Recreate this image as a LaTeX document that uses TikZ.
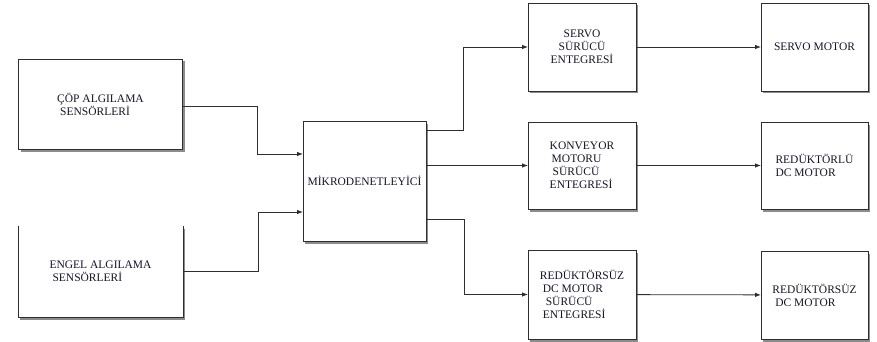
\documentclass[tikz,border=0pt]{standalone}
\usepackage{fontspec}
\setmainfont{Liberation Serif}
\usetikzlibrary{arrows.meta, positioning, calc, shadows}
\definecolor{bdLine}{HTML}{2E2E2E}
\definecolor{bdText}{HTML}{141428}
\newcommand{\ic}{\hspace*{3pt}}
\tikzset{
  blok/.style={
    draw=bdLine, line width=0.9pt, fill=white, align=left,
    font=\fontsize{11.5}{13}\selectfont, text=bdText,
    inner sep=0pt, outer sep=0pt,
    drop shadow={shadow xshift=2pt, shadow yshift=-2.5pt, fill=black, opacity=0.45}
  },
  acikblok/.style={blok, draw=none},
  akis/.style={-{Latex[length=6pt,width=4.5pt]}, line width=0.8pt, draw=bdLine},
}

\begin{document}
\begin{tikzpicture}[x=1pt, y=-1pt]
  \useasboundingbox (0,0) rectangle (877,342);

  % giris sensorleri
  \node[blok, minimum width=164pt, minimum height=90pt] (cop) at (100.5,104) {ÇÖP ALGILAMA\\\ic SENSÖRLERİ};
  \node[acikblok, minimum width=165pt, minimum height=91pt] (engel) at (100.5,271.5) {ENGEL ALGILAMA\\\ic SENSÖRLERİ};
  \draw[draw=bdLine, line width=0.9pt] (engel.north west) -- (engel.south west)
    -- (engel.south east) -- (engel.north east);

  \node[blok, minimum width=123pt, minimum height=120pt] (mikro) at (364.5,181) {MİKRODENETLEYİCİ};

  % surucu entegreleri
  \node[blok, align=center, minimum width=108pt, minimum height=88pt] (sdrv) at (582,47) {SERVO\\ SÜRÜCÜ\\ ENTEGRESİ};
  \node[blok, minimum width=108pt, minimum height=87pt] (kdrv) at (582,165.5) {KONVEYOR\\ \hspace*{2pt}MOTORU\\ \hspace*{3pt}SÜRÜCÜ\\ ENTEGRESİ};
  \node[blok, minimum width=108pt, minimum height=89pt] (rdrv) at (582,294.5) {REDÜKTÖRSÜZ\\\ic DC MOTOR\\ \hspace*{6pt}SÜRÜCÜ\\\ic ENTEGRESİ};

  % motorlar
  \node[blok, minimum width=107pt, minimum height=88pt] (smot) at (814.5,47) {SERVO MOTOR};
  \node[blok, minimum width=107pt, minimum height=87pt] (rlu) at (814.5,165.5) {REDÜKTÖRLÜ\\ DC MOTOR};
  \node[blok, minimum width=107pt, minimum height=88pt] (rsuz) at (814.5,295) {REDÜKTÖRSÜZ\\\ic DC MOTOR};

  \draw[akis] ([yshift=-2pt]cop.east) -- ++(75,0) |- ([yshift=27pt]mikro.west);
  \draw[akis] (engel.east) -- ++(75,0) |- ([yshift=-31pt]mikro.west);
  \draw[akis] ([yshift=-9pt]mikro.north east) -- ++(37,0) |- (sdrv.west);
  \draw[akis] (mikro.east |- kdrv.west) -- (kdrv.west);
  \draw[akis] ([yshift=22pt]mikro.south east) -- ++(38,0) |- (rdrv.west);
  \draw[akis] (sdrv) -- (smot);
  \draw[akis] (kdrv) -- (rlu);
  \draw[akis] (rdrv) -- (rsuz);
\end{tikzpicture}
\end{document}
